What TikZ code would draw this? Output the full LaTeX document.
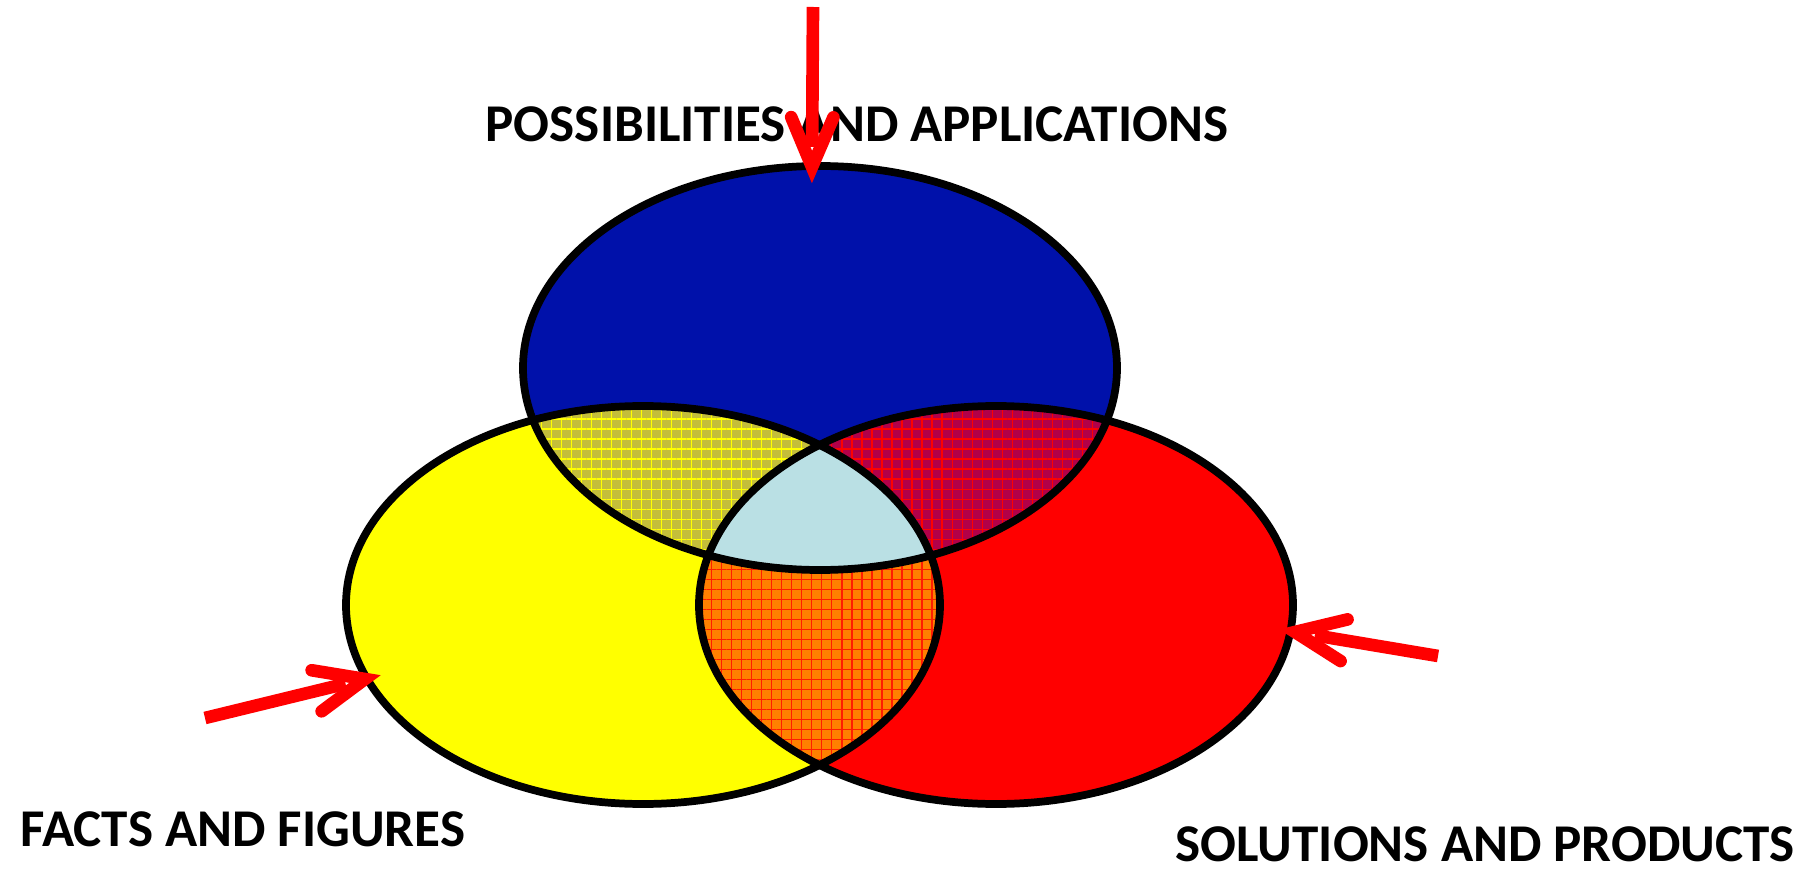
\documentclass[tikz,border=0pt]{standalone}
\usepackage{fontspec}
\setmainfont{Carlito}
\usetikzlibrary{calc,patterns.meta}
\definecolor{cblue}{RGB}{0,17,170}
\definecolor{cyellow}{RGB}{255,255,0}
\definecolor{cred}{RGB}{255,0,0}
\definecolor{colive}{RGB}{196,190,58}
\definecolor{ccrimson}{RGB}{178,0,72}
\definecolor{corange}{RGB}{255,128,0}
\definecolor{clight}{RGB}{186,224,228}
\definecolor{cgridred}{RGB}{255,30,0}
\tikzset{
  outline/.style={draw=black, line width=2.2pt},
  shaft/.style={draw=red, line width=3.6pt, line cap=butt},
  barb/.style={draw=red, line width=3.6pt, line cap=round, line join=miter},
  label/.style={inner sep=0pt, anchor=base west, font=\fontsize{15.1pt}{18pt}\selectfont\bfseries},
  gridpat/.style={pattern={Lines[angle=0,distance=2.85pt,line width=0.35pt]}, pattern color=#1},
  gridpatv/.style={pattern={Lines[angle=90,distance=2.85pt,line width=0.35pt]}, pattern color=#1},
}
\newcommand{\ellB}{(820,368) ellipse [x radius=297, y radius=202]}
\newcommand{\ellY}{(643,605) ellipse [x radius=297, y radius=199]}
\newcommand{\ellR}{(996,605) ellipse [x radius=297, y radius=199]}
\begin{document}
\begin{tikzpicture}[x=0.01cm, y=-0.01cm]
\useasboundingbox (0,0) rectangle (1820,870);
% base fills
\fill[cblue] \ellB;
\fill[cyellow] \ellY;
\fill[cred] \ellR;
% blue & yellow
\begin{scope}
  \clip \ellB; \clip \ellY;
  \fill[colive] (300,300) rectangle (1300,900);
  \fill[gridpat=cyellow] (300,300) rectangle (1300,900);
  \fill[gridpatv=cyellow] (300,300) rectangle (1300,900);
\end{scope}
% blue & red
\begin{scope}
  \clip \ellB; \clip \ellR;
  \fill[ccrimson] (300,300) rectangle (1300,900);
  \fill[gridpat=cred] (300,300) rectangle (1300,900);
  \fill[gridpatv=cred] (300,300) rectangle (1300,900);
\end{scope}
% yellow & red
\begin{scope}
  \clip \ellY; \clip \ellR;
  \fill[corange] (300,300) rectangle (1300,900);
  \fill[gridpat=cgridred] (300,300) rectangle (1300,900);
  \fill[gridpatv=cgridred] (300,300) rectangle (1300,900);
\end{scope}
% all three
\begin{scope}
  \clip \ellB; \clip \ellY; \clip \ellR;
  \fill[clight] (300,300) rectangle (1300,900);
\end{scope}
% outlines
\draw[outline] \ellB;
\draw[outline] \ellY;
\draw[outline] \ellR;
% labels
\node[label] (lpa) at (485,142) {POSSIBILITIES AND APPLICATIONS};
\node[label] (lff) at (20,846) {FACTS AND FIGURES};
\node[label] (lsp) at (1175,861) {SOLUTIONS AND PRODUCTS};
% arrows
\coordinate (tTail) at (813,7);   \coordinate (tTip) at (812,167);
\coordinate (lTail) at (205,718); \coordinate (lTip) at (365,679);
\coordinate (rTail) at (1438,656);\coordinate (rTip) at (1295,632);
\foreach \t/\h in {tTail/tTip, lTail/lTip, rTail/rTip}{
  \draw[shaft] (\t) -- ($(\h)!0.2cm!(\t)$);
  \draw[barb] ($(\h)!0.54cm!23:(\t)$) -- (\h) -- ($(\h)!0.54cm!-23:(\t)$);
}
\end{tikzpicture}
\end{document}
